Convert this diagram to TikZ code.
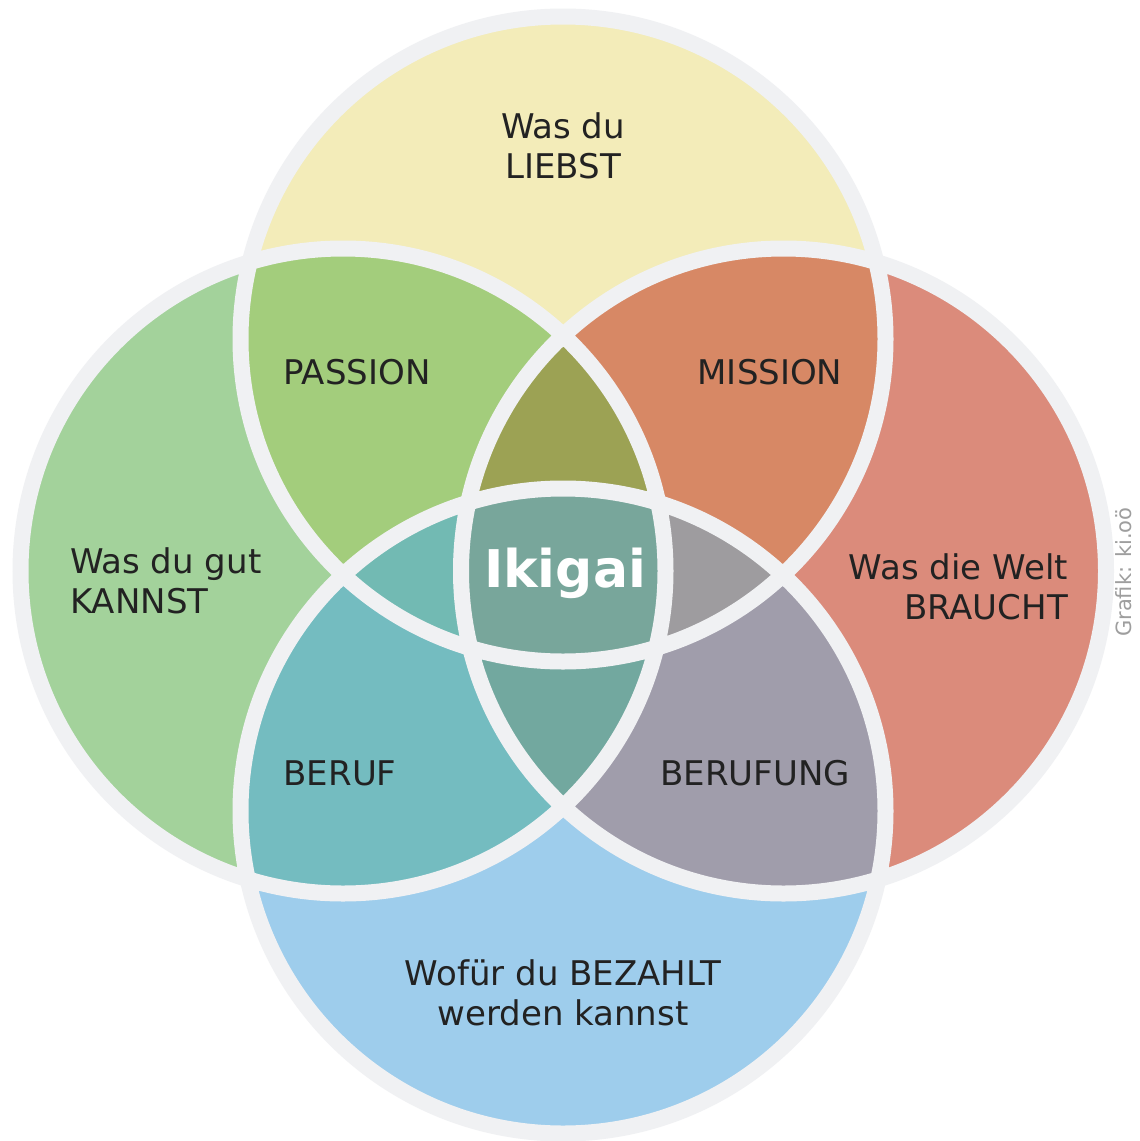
\documentclass[tikz,border=0pt]{standalone}
\usepackage{fontspec}
\setmainfont{DejaVu Sans}
\usepackage{xcolor}
\definecolor{ringgray}{HTML}{F0F1F3}
\definecolor{textdark}{HTML}{222222}
\definecolor{liebst}{HTML}{F3ECB9}
\definecolor{kannst}{HTML}{A3D29B}
\definecolor{braucht}{HTML}{DB8B7B}
\definecolor{bezahlt}{HTML}{9ECDEC}
\definecolor{passion}{HTML}{A3CD7C}
\definecolor{mission}{HTML}{D78865}
\definecolor{beruf}{HTML}{74BCC0}
\definecolor{berufung}{HTML}{A09DAB}
\definecolor{topmid}{HTML}{9CA254}
\definecolor{leftmid}{HTML}{72BAB3}
\definecolor{rightmid}{HTML}{9E9C9F}
\definecolor{botmid}{HTML}{72A89F}
\definecolor{ikigai}{HTML}{78A69B}
\usetikzlibrary{calc}
\tikzset{
  ring/.style={draw=ringgray, line width=16pt},
  lbl/.style={text=textdark, font=\fontsize{34}{40}\selectfont, align=center, inner sep=0pt}
}
\def\circtop{(563,339) circle[radius=322.5pt]}
\def\circbot{(563,811) circle[radius=322.5pt]}
\def\circleft{(343,571) circle[radius=322.5pt]}
\def\circright{(783.5,571) circle[radius=322.5pt]}

\begin{document}
\begin{tikzpicture}[x=1pt, y=-1pt]
\useasboundingbox (0,0) rectangle (1140,1141);
\fill[white] (0,0) rectangle (1140,1141);
% the four big circles
\fill[liebst] \circtop;
\fill[kannst] \circleft;
\fill[braucht] \circright;
\fill[bezahlt] \circbot;
% two at a time
\begin{scope}
  \clip \circtop;
  \fill[passion] \circleft;
  \fill[mission] \circright;
\end{scope}
\begin{scope}
  \clip \circbot;
  \fill[beruf] \circleft;
  \fill[berufung] \circright;
\end{scope}
% three at a time
\begin{scope}
  \clip \circleft; \clip \circright;
  \fill[topmid] \circtop;
  \fill[botmid] \circbot;
\end{scope}
\begin{scope}
  \clip \circtop; \clip \circbot;
  \fill[leftmid] \circleft;
  \fill[rightmid] \circright;
\end{scope}
% all four
\begin{scope}
  \clip \circtop; \clip \circbot; \clip \circleft;
  \fill[ikigai] \circright;
\end{scope}
\draw[ring] \circtop \circleft \circright \circbot;

\node[lbl] (liebst) at (563,146) {Was du\\LIEBST};
\node[lbl] (passion) at (357,372) {PASSION};
\node[lbl] (mission) at (770,372) {MISSION};
\node[lbl, anchor=west, align=left] (kannst) at (70,581) {Was du gut\\KANNST};
\node[lbl, anchor=east, align=right] (braucht) at (1068,587) {Was die Welt\\BRAUCHT};
\node[lbl] (beruf) at (340,773) {BERUF};
\node[lbl] (berufung) at (755,773) {BERUFUNG};
\node[lbl] (bezahlt) at (563,993) {Wofür du BEZAHLT\\werden kannst};
\node[inner sep=0pt, text=white, font=\fontsize{52}{60}\bfseries\selectfont] (ikigai) at (565,573) {Ikigai};
\node[inner sep=0pt, rotate=90, anchor=base west, text=black!38, font=\fontsize{21}{26}\selectfont] (grafik) at (1131,637) {Grafik: ki.oö};
\end{tikzpicture}
\end{document}
